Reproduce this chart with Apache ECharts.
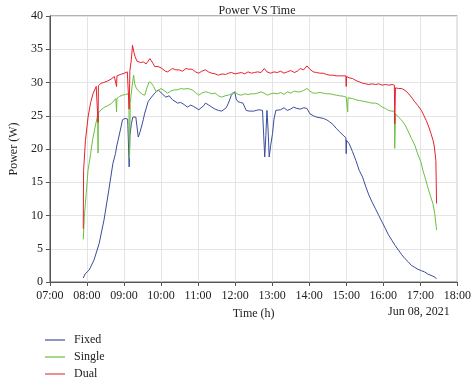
<!DOCTYPE html>
<html>
<head>
<meta charset="utf-8">
<script src="https://cdn.jsdelivr.net/npm/echarts@6/dist/echarts.min.js"></script>
<style>html,body{margin:0;padding:0;background:#fff}#c{width:474px;height:382px}</style>
</head>
<body>
<div id="c"></div>
<script>
// ---- data (time in decimal hours, power in W) ----
const seriesNames = ['Fixed', 'Single', 'Dual'];
const yTicks = [0, 5, 10, 15, 20, 25, 30, 35, 40];
const dateLabel = 'Jun 08, 2021';

const fixedTime = [7.90,7.95,8.06,8.19,8.33,8.46,8.59,8.70,8.77,8.81,8.84,8.86,8.92,8.96,9.03,9.07,9.10,9.13,9.14,9.16,9.20,9.24,9.28,9.32,9.385,9.43,9.47,9.52,9.56,9.61,9.65,9.70,9.74,9.83,9.92,9.97,10.05,10.13,10.22,10.31,10.36,10.45,10.53,10.62,10.71,10.80,10.88,10.93,11.02,11.06,11.15,11.20,11.29,11.37,11.46,11.55,11.64,11.68,11.76,11.82,11.90,11.99,12.03,12.08,12.15,12.21,12.26,12.30,12.38,12.43,12.50,12.57,12.65,12.74,12.78,12.80,12.83,12.86,12.89,12.92,12.96,13.01,13.05,13.10,13.14,13.23,13.32,13.41,13.50,13.58,13.67,13.76,13.85,13.94,14.02,14.11,14.20,14.29,14.38,14.47,14.55,14.64,14.73,14.82,14.91,14.99,15.00,15.01,15.08,15.17,15.26,15.35,15.44,15.53,15.61,15.70,15.79,15.88,15.97,16.06,16.14,16.23,16.32,16.41,16.50,16.59,16.68,16.76,16.85,16.94,17.03,17.12,17.20,17.29,17.37,17.44];
const fixedPower = [0.6,1.2,1.8,3.3,5.8,9.3,13.8,17.8,19.3,20.6,21.3,21.8,23.3,24.4,24.6,24.8,24.5,24.7,17.3,22.0,23.8,24.8,25.1,24.8,21.8,22.5,23.3,24.4,25.4,26.3,27.1,27.5,27.8,28.4,28.9,28.6,28.2,27.8,28.0,27.4,27.1,26.9,27.0,26.7,26.3,26.6,26.4,26.1,25.9,25.8,26.5,26.9,26.6,26.3,26.0,25.8,25.7,25.6,26.2,26.9,28.1,28.6,27.5,27.1,27.0,26.9,26.3,25.8,25.7,25.6,25.7,25.8,25.9,25.8,25.6,18.8,22.0,25.8,23.0,18.8,20.5,22.3,24.5,25.8,26.1,25.9,26.2,25.8,26.0,26.3,26.1,26.0,26.2,26.1,25.3,25.0,24.8,24.7,24.6,24.4,24.1,23.7,23.1,22.6,22.1,21.7,19.3,21.3,20.8,19.6,18.3,16.8,15.8,14.3,13.1,12.0,11.0,10.0,9.0,8.0,7.1,6.3,5.5,4.8,4.1,3.5,3.0,2.5,2.2,1.9,1.7,1.5,1.2,1.0,0.8,0.5];

const singleTime = [7.90,7.93,7.98,8.03,8.10,8.15,8.21,8.27,8.29,8.30,8.31,8.38,8.48,8.56,8.65,8.72,8.78,8.80,8.81,8.88,8.96,9.04,9.09,9.13,9.15,9.17,9.22,9.26,9.29,9.33,9.38,9.43,9.50,9.56,9.62,9.68,9.74,9.80,9.87,9.93,10.00,10.08,10.18,10.26,10.36,10.45,10.53,10.62,10.70,10.78,10.84,10.93,11.02,11.10,11.20,11.28,11.37,11.46,11.55,11.64,11.73,11.82,11.90,11.99,12.08,12.17,12.26,12.35,12.44,12.52,12.61,12.70,12.78,12.87,12.96,13.05,13.14,13.23,13.32,13.41,13.50,13.60,13.68,13.76,13.85,13.94,14.02,14.11,14.20,14.29,14.38,14.47,14.56,14.64,14.73,14.82,14.91,15.00,15.03,15.04,15.05,15.17,15.26,15.35,15.44,15.53,15.61,15.70,15.79,15.88,15.97,16.06,16.14,16.22,16.30,16.31,16.33,16.41,16.50,16.59,16.67,16.76,16.85,16.94,17.02,17.07,17.14,17.20,17.27,17.34,17.39,17.44];
const singlePower = [6.4,9.8,13.3,16.8,19.3,21.3,23.0,24.6,25.2,19.4,25.4,25.9,26.3,26.5,26.8,27.2,27.6,25.6,27.6,27.9,28.1,28.2,28.4,28.3,18.6,27.0,29.5,31.1,29.8,29.2,28.8,28.6,28.2,28.1,29.2,30.1,29.9,29.4,28.6,28.8,29.1,28.8,28.4,28.7,28.9,28.9,29.1,29.0,29.1,29.0,28.9,28.5,28.1,28.4,28.6,28.5,28.3,28.4,28.0,27.8,28.0,28.1,28.3,28.6,28.2,28.1,28.3,28.2,28.3,28.3,28.4,28.6,28.4,28.1,28.3,28.4,28.3,28.5,28.2,28.6,28.4,28.7,28.6,28.6,28.8,29.1,28.7,28.4,28.4,28.5,28.4,28.3,28.3,28.2,28.1,28.0,27.95,27.8,27.7,25.6,27.7,27.6,27.4,27.3,27.2,27.1,27.0,26.9,26.9,26.7,26.3,26.1,25.8,25.7,25.7,20.1,25.3,24.8,24.3,23.6,22.7,21.6,20.6,19.1,18.0,16.8,15.5,14.3,13.0,11.8,10.3,7.8];

const dualTime = [7.90,7.91,7.96,8.03,8.10,8.17,8.25,8.29,8.30,8.31,8.38,8.45,8.55,8.65,8.74,8.79,8.80,8.81,8.90,9.01,9.09,9.13,9.14,9.16,9.20,9.23,9.27,9.30,9.35,9.39,9.45,9.52,9.60,9.65,9.70,9.74,9.78,9.83,9.87,9.92,9.96,10.00,10.05,10.12,10.18,10.25,10.31,10.40,10.49,10.58,10.67,10.75,10.84,10.93,11.02,11.10,11.20,11.28,11.37,11.46,11.55,11.65,11.74,11.82,11.90,12.00,12.08,12.17,12.26,12.35,12.44,12.52,12.61,12.70,12.79,12.86,12.96,13.05,13.14,13.23,13.32,13.41,13.50,13.60,13.68,13.76,13.85,13.94,14.02,14.11,14.20,14.29,14.38,14.47,14.56,14.64,14.73,14.82,14.91,14.99,15.00,15.01,15.08,15.17,15.26,15.35,15.44,15.53,15.61,15.70,15.79,15.88,15.97,16.06,16.15,16.24,16.30,16.31,16.33,16.41,16.50,16.59,16.67,16.76,16.85,16.94,17.03,17.10,17.16,17.23,17.29,17.35,17.38,17.42,17.43,17.44];
const dualPower = [8.0,16.8,21.3,24.8,27.0,28.4,29.4,29.6,24.0,29.5,29.9,30.0,30.2,30.5,30.9,30.8,29.4,31.0,31.2,31.4,31.6,31.6,26.0,31.8,33.5,35.6,34.5,33.9,33.2,32.9,33.0,33.1,32.8,33.2,33.6,33.3,32.9,32.4,32.1,32.4,32.6,32.2,31.9,31.7,31.6,31.9,32.1,31.9,31.9,31.7,32.1,32.0,32.0,31.6,31.4,31.7,31.9,31.6,31.4,31.3,31.1,31.3,31.2,31.4,31.5,31.3,31.4,31.5,31.3,31.6,31.4,31.5,31.6,31.5,32.1,31.6,31.4,31.6,31.5,31.7,31.4,31.6,31.8,31.5,31.7,32.1,31.9,32.5,32.0,31.6,31.5,31.4,31.4,31.2,31.1,31.1,31.0,31.0,31.0,31.0,29.4,30.9,30.7,30.6,30.3,30.1,29.9,29.8,29.7,29.8,29.7,29.8,29.6,29.7,29.6,29.7,29.6,23.8,29.2,29.1,29.1,28.8,28.4,27.8,27.1,26.5,25.8,25.0,24.3,23.3,22.3,21.2,20.3,18.3,15.0,11.8];

const lineColors = ['#3b4c9e', '#6cbf3f', '#e8202e'];
const legendColors = ['#8d97c4', '#a7d68e', '#ec8f95'];

// ---- chart ----
const zip = (t, v) => t.map((x, i) => [x, v[i]]);
const serif = '"Liberation Serif", "DejaVu Serif", serif';
const pad = n => (n < 10 ? '0' : '') + n;

const chart = echarts.init(document.getElementById('c'), null, {renderer: 'canvas'});
const seriesData = [zip(fixedTime, fixedPower), zip(singleTime, singlePower), zip(dualTime, dualPower)];

chart.setOption({
  animation: false,
  backgroundColor: '#fff',
  textStyle: {fontFamily: serif},
  title: {
    text: 'Power VS Time', left: 252, top: 0, textAlign: 'center',
    textStyle: {fontFamily: serif, fontSize: 12, fontWeight: 'normal', color: '#222'}
  },
  grid: {left: 45, right: 14, top: 16, bottom: 100, show: true, borderColor: '#666', borderWidth: 1},
  legend: {
    orient: 'vertical', left: 45, top: 333, height: 80, width: 120, padding: 0,
    itemWidth: 20, itemHeight: 2, itemGap: 3,
    icon: 'rect',
    textStyle: {fontFamily: serif, fontSize: 12, color: '#222', lineHeight: 14, height: 14, padding: [0, 0, 0, 4]},
    data: seriesNames.map((n, i) => ({name: n, itemStyle: {color: legendColors[i]}}))
  },
  xAxis: {
    type: 'value', min: 7, max: 18, interval: 1,
    name: 'Time (h)', nameLocation: 'middle', nameGap: 26,
    nameTextStyle: {fontFamily: serif, fontSize: 12, color: '#222'},
    axisLine: {show: true, lineStyle: {color: '#555'}},
    axisTick: {show: true, length: 4, lineStyle: {color: '#555'}},
    axisLabel: {fontFamily: serif, fontSize: 12, color: '#222', margin: 8,
      formatter: v => pad(v) + ':00'},
    splitLine: {show: true, lineStyle: {color: '#e4e4e4', width: 1}}
  },
  yAxis: {
    type: 'value', min: yTicks[0], max: yTicks[yTicks.length - 1], interval: 5,
    name: 'Power (W)', nameLocation: 'middle', nameGap: 27,
    nameTextStyle: {fontFamily: serif, fontSize: 12, color: '#222'},
    axisLine: {show: true, lineStyle: {color: '#555'}},
    axisTick: {show: true, length: 4, lineStyle: {color: '#555'}},
    axisLabel: {fontFamily: serif, fontSize: 12, color: '#222', margin: 7},
    splitLine: {show: true, lineStyle: {color: '#e4e4e4', width: 1}}
  },
  graphic: [{
    type: 'text', left: 388, top: 306,
    style: {text: dateLabel, fontFamily: serif, fontSize: 12, fill: '#222'}
  }],
  series: seriesNames.map((n, i) => ({
    name: n, type: 'line', data: seriesData[i], symbol: 'none', showSymbol: false,
    lineStyle: {color: lineColors[i], width: 1}, itemStyle: {color: lineColors[i]},
    z: 2 + i
  }))
});
</script>
</body>
</html>
